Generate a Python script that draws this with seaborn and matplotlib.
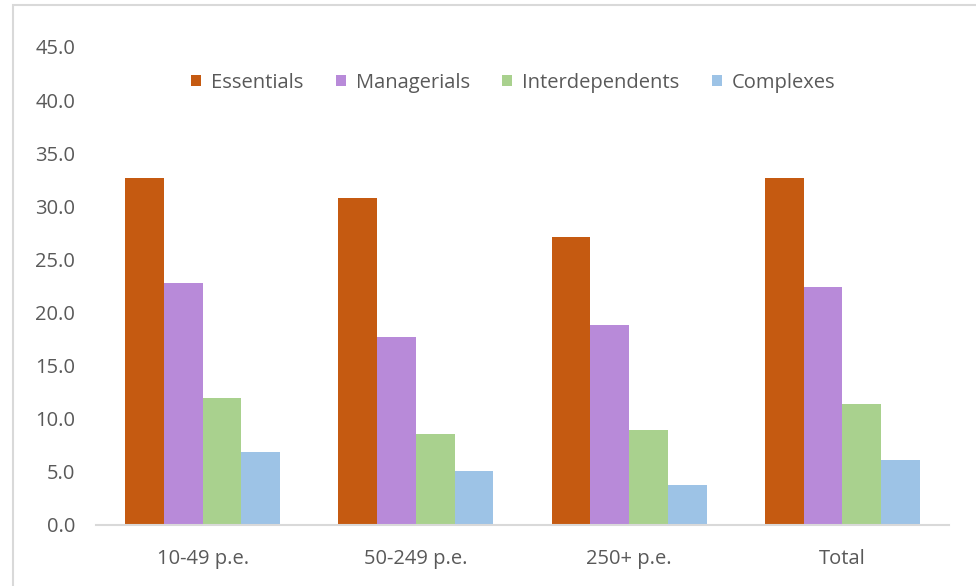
import matplotlib
matplotlib.use("Agg")
import matplotlib.pyplot as plt
from matplotlib.patches import Rectangle, Patch
import pandas as pd
import seaborn as sns

categories = ["10-49 p.e.", "50-249 p.e.", "250+ p.e.", "Total"]
series = ["Essentials", "Managerials", "Interdependents", "Complexes"]
essentials = [32.7, 30.8, 27.1, 32.7]
managerials = [22.8, 17.7, 18.8, 22.4]
interdependents = [12.0, 8.6, 8.9, 11.4]
complexes = [6.9, 5.1, 3.8, 6.1]
colors = ["#C55A11", "#B88AD9", "#A9D18E", "#9DC3E6"]
yticks = [0, 5, 10, 15, 20, 25, 30, 35, 40, 45]

values = {"Essentials": essentials, "Managerials": managerials,
          "Interdependents": interdependents, "Complexes": complexes}
df = pd.DataFrame([
    {"category": c, "series": s, "value": v}
    for s in series for c, v in zip(categories, values[s])
])

sns.set_theme(style="white")
plt.rcParams["font.family"] = ["Open Sans", "DejaVu Sans"]

fig = plt.figure(figsize=(9.76, 5.86), dpi=100)
ax = fig.add_axes([0.0984, 0.1041, 0.8739, 0.8157])

sns.barplot(data=df, x="category", y="value", hue="series",
            order=categories, hue_order=series, palette=colors,
            width=0.727, gap=0, linewidth=0, saturation=1,
            errorbar=None, legend=False, ax=ax)

ax.set_ylim(0, 45)
ax.set_xlim(-0.5, len(categories) - 0.5)
ax.set_yticks(yticks)
ax.set_yticklabels([f"{t:.1f}" for t in yticks])
ax.set_xlabel("")
ax.set_ylabel("")
ax.tick_params(axis="y", length=0, pad=15, labelsize=14.5, labelcolor="#595959")
ax.tick_params(axis="x", length=0, pad=17, labelsize=14.5, labelcolor="#595959")

for side in ["top", "right", "left"]:
    ax.spines[side].set_visible(False)
ax.spines["bottom"].set_color("#D9D9D9")
ax.spines["bottom"].set_linewidth(1.5)

handles = [Patch(facecolor=c, edgecolor="none", label=s) for s, c in zip(series, colors)]
leg = ax.legend(handles=handles, loc="center", bbox_to_anchor=(0.489, 0.925),
                ncol=4, frameon=False, fontsize=14.5, handlelength=0.5,
                handleheight=0.5, handletextpad=0.5, columnspacing=1.6,
                borderpad=0, borderaxespad=0)
for t in leg.get_texts():
    t.set_color("#595959")

# light chart frame
fig.patches.append(Rectangle((13 / 976, -0.05), 1.2, 1 - 5 / 586 + 0.05,
                             transform=fig.transFigure, fill=False,
                             edgecolor="#D9D9D9", linewidth=1.5))

fig.savefig("out.png", dpi=100)
